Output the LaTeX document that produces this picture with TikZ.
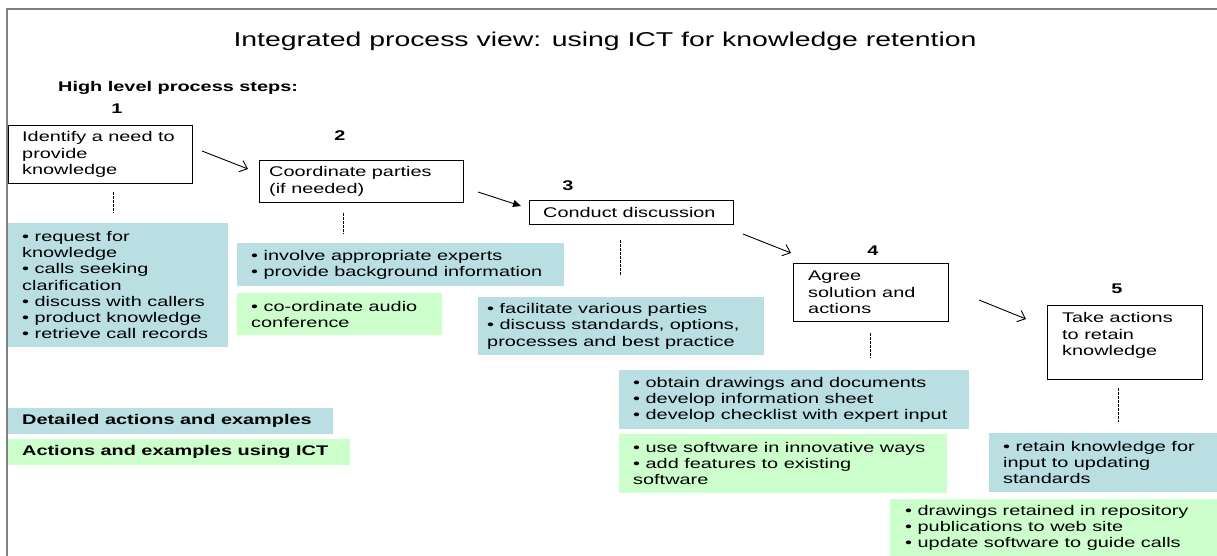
\documentclass[tikz,border=0pt]{standalone}
\usepackage{fontspec}
\setmainfont[FakeStretch=1.42]{Liberation Sans}
\usetikzlibrary{arrows.meta,calc}
\definecolor{bluebox}{RGB}{185,223,227}
\definecolor{greenbox}{RGB}{204,255,204}
\definecolor{framegray}{RGB}{128,128,128}
\begin{document}
\begin{tikzpicture}[x=1pt,y=-1pt,
  stepbox/.style={draw=black,line width=0.9pt,fill=white,inner sep=0pt,anchor=north west},
  bluefill/.style={fill=bluebox,draw=none,inner sep=0pt,anchor=north west},
  greenfill/.style={fill=greenbox,draw=none,inner sep=0pt,anchor=north west},
  txt/.style={inner sep=0pt,align=left,font=\fontsize{14}{16.2}\selectfont,anchor=west},
  boldtxt/.style={inner sep=0pt,align=left,font=\bfseries\fontsize{14}{16.2}\selectfont,anchor=west},
  num/.style={inner sep=0pt,font=\bfseries\fontsize{14}{16}\selectfont},
  flowopen/.style={line width=0.9pt,-{Straight Barb[length=7pt,width=12pt,line width=0.9pt]}},
  flowfill/.style={line width=0.9pt,-{Triangle[length=8pt,width=7pt]}},
  dotline/.style={line width=0.8pt,dash pattern=on 2.5pt off 1.5pt}]
\useasboundingbox (0,0) rectangle (1217,556);
\fill[white] (0,0) rectangle (1217,556);
\draw[framegray,line width=1.6pt] (7,556) -- (7,9) -- (1217,9);

% title
\node[inner sep=0pt,anchor=base,font=\fontsize{20}{24}\selectfont] (title) at (605,47) {Integrated process view: using ICT for knowledge retention};
\node[inner sep=0pt,anchor=base west,font=\bfseries\fontsize{14}{16}\selectfont] (hl) at (58,92) {High level process steps:};

% numbers
\node[num] (n1) at (117,109) {1};
\node[num] (n2) at (340,136) {2};
\node[num] (n3) at (568,186) {3};
\node[num] (n4) at (873,251) {4};
\node[num] (n5) at (1117,289) {5};

% step boxes
\node[stepbox,minimum width=184pt,minimum height=58pt] (s1) at (8,125) {};
\node[stepbox,minimum width=204pt,minimum height=42pt] (s2) at (259,160) {};
\node[stepbox,minimum width=204pt,minimum height=24pt] (s3) at (529,200) {};
\node[stepbox,minimum width=155pt,minimum height=58pt] (s4) at (793,263) {};
\node[stepbox,minimum width=155pt,minimum height=74pt] (s5) at (1047,305) {};
\node[txt] (t1) at ([xshift=14pt]s1.west) {Identify a need to\\provide\\knowledge};
\node[txt] (t2) at ([xshift=10pt]s2.west) {Coordinate parties\\(if needed)};
\node[txt] (t3) at ([xshift=14pt]s3.west) {Conduct discussion};
\node[txt] (t4) at ([xshift=15pt]s4.west) {Agree\\solution and\\actions};
\node[txt] (t5) at ([xshift=15pt,yshift=7pt]s5.west) {Take actions\\to retain\\knowledge};

% arrows
\coordinate (a1s) at (202,151); \coordinate (a1e) at (248,169);
\coordinate (a2s) at (478,192); \coordinate (a2e) at (521,206);
\coordinate (a3s) at (743,234); \coordinate (a3e) at (791,253);
\coordinate (a4s) at (979,300); \coordinate (a4e) at (1026,319);
\draw[flowopen] (a1s) -- (a1e);
\draw[flowfill] (a2s) -- (a2e);
\draw[flowopen] (a3s) -- (a3e);
\draw[flowopen] (a4s) -- (a4e);

% dotted links
\coordinate (d1a) at (113,192); \coordinate (d1b) at (113,213);
\coordinate (d2a) at (343,213); \coordinate (d2b) at (343,234);
\coordinate (d3a) at (620,240); \coordinate (d3b) at (620,275);
\coordinate (d4a) at (870,333); \coordinate (d4b) at (870,358);
\coordinate (d5a) at (1118,388); \coordinate (d5b) at (1118,422);
\draw[dotline] (d1a) -- (d1b);
\draw[dotline] (d2a) -- (d2b);
\draw[dotline] (d3a) -- (d3b);
\draw[dotline] (d4a) -- (d4b);
\draw[dotline] (d5a) -- (d5b);

% detail boxes
\node[bluefill,minimum width=220pt,minimum height=124pt] (b1) at (8,223) {};
\node[txt] (tb1) at ([xshift=14pt]b1.west) {• request for\\knowledge\\• calls seeking\\clarification\\• discuss with callers\\• product knowledge\\• retrieve call records};

\node[bluefill,minimum width=327pt,minimum height=43pt] (b2) at (237,243) {};
\node[txt] (tb2) at ([xshift=14pt]b2.west) {• involve appropriate experts\\• provide background information};
\node[greenfill,minimum width=205pt,minimum height=42pt] (g2) at (237,293) {};
\node[txt] (tg2) at ([xshift=14pt]g2.west) {• co-ordinate audio\\conference};

\node[bluefill,minimum width=286pt,minimum height=58pt] (b3) at (478,297) {};
\node[txt] (tb3) at ([xshift=9pt]b3.west) {• facilitate various parties\\• discuss standards, options,\\processes and best practice};

\node[bluefill,minimum width=350pt,minimum height=59pt] (b4) at (619,370) {};
\node[txt] (tb4) at ([xshift=14pt]b4.west) {• obtain drawings and documents\\• develop information sheet\\• develop checklist with expert input};
\node[greenfill,minimum width=328pt,minimum height=59pt] (g4) at (619,434) {};
\node[txt] (tg4) at ([xshift=14pt]g4.west) {• use software in innovative ways\\• add features to existing\\software};

\node[bluefill,minimum width=228pt,minimum height=59pt] (b5) at (989,433) {};
\node[txt] (tb5) at ([xshift=14pt]b5.west) {• retain knowledge for\\input to updating\\standards};
\node[greenfill,minimum width=327pt,minimum height=57pt] (g5) at (890,499) {};
\node[txt] (tg5) at ([xshift=15pt]g5.west) {• drawings retained in repository\\• publications to web site\\• update software to guide calls};

% legend
\node[bluefill,minimum width=325pt,minimum height=26pt] (lb) at (8,408) {};
\node[boldtxt] (tlb) at ([xshift=14pt]lb.west) {Detailed actions and examples};
\node[greenfill,minimum width=342pt,minimum height=26pt] (lg) at (8,439) {};
\node[boldtxt] (tlg) at ([xshift=14pt]lg.west) {Actions and examples using ICT};
\end{tikzpicture}
\end{document}
